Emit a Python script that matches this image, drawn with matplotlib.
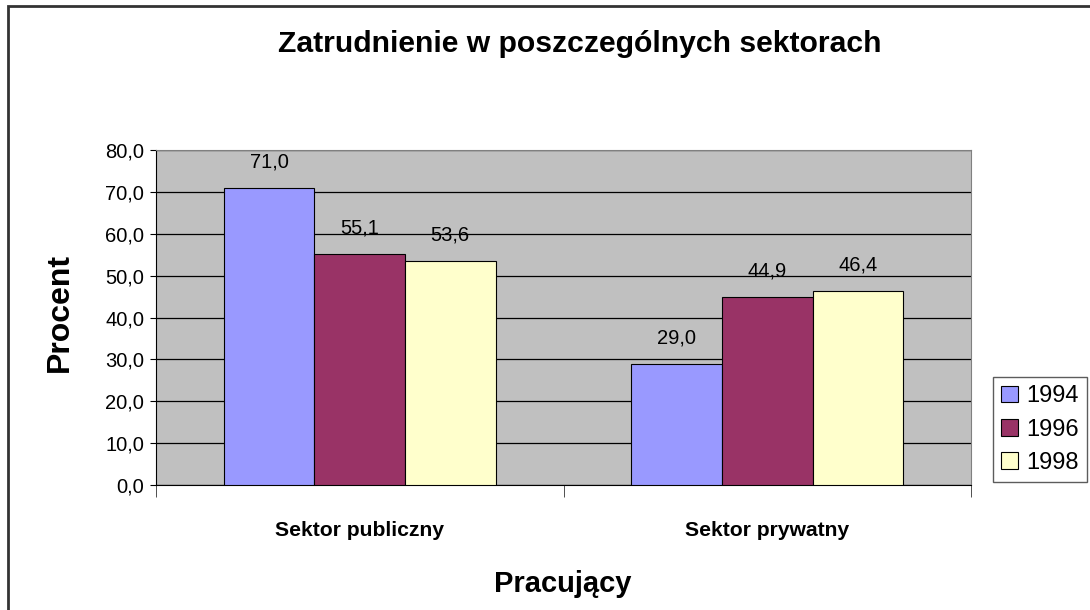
# -*- coding:utf-8 -*-

import numpy as np
import matplotlib
matplotlib.use('Agg')
import matplotlib.pyplot as plt
from matplotlib.patches import Rectangle

plt.rcParams['font.family'] = ['Liberation Sans', 'DejaVu Sans']

categories = ['Sektor publiczny', 'Sektor prywatny']
years = ['1994', '1996', '1998']
val_1994 = [71.0, 29.0]
val_1996 = [55.1, 44.9]
val_1998 = [53.6, 46.4]
colors = ['#9999FF', '#993366', '#FFFFCC']

fig = plt.figure(figsize=(10.9, 6.1), dpi=100)
ax = fig.add_axes([156 / 1090, 1 - 485 / 610, (971 - 156) / 1090, (485 - 150) / 610])
ax.set_facecolor('#C0C0C0')

x = np.arange(len(categories))
w = 1 / 4.5  # gap width 150%
series = [val_1994, val_1996, val_1998]
for i, (vals, c, yr) in enumerate(zip(series, colors, years)):
    pos = x + (i - 1) * w
    ax.bar(pos, vals, width=w, color=c, edgecolor='black', linewidth=0.8, label=yr, zorder=3)
    for px, v in zip(pos, vals):
        ax.annotate(('%.1f' % v).replace('.', ','), (px, v), xytext=(0, 26),
                    textcoords='offset pixels', ha='center', va='center', fontsize=14.5, zorder=4)

ax.set_xlim(-0.5, 1.5)
ax.set_ylim(0, 80)
ax.set_yticks(np.arange(0, 81, 10))
ax.set_yticklabels([('%.1f' % t).replace('.', ',') for t in np.arange(0, 81, 10)], fontsize=14.5)
ax.yaxis.grid(True, color='black', linewidth=0.9, zorder=0)
ax.set_axisbelow(True)

ax.set_xticks(x)
ax.set_xticklabels(categories, fontsize=15.2, fontweight='bold')
ax.tick_params(axis='x', which='major', length=0, pad=26)
ax.set_xticks([-0.5, 0.5, 1.5], minor=True)
ax.tick_params(axis='x', which='minor', length=8.6, color='#333333')
ax.tick_params(axis='y', length=4.3, color='black', pad=4.3)

for s in ['top', 'right']:
    ax.spines[s].set_color('#808080')
ax.spines['left'].set_color('black')
ax.spines['bottom'].set_color('black')

fig.text(580 / 1090, 1 - 44 / 610, 'Zatrudnienie w poszczególnych sektorach',
         ha='center', va='center', fontsize=21.7, fontweight='bold')
fig.text(60 / 1090, 1 - 312 / 610, 'Procent', rotation=90,
         ha='center', va='center', fontsize=23, fontweight='bold')
fig.text(563 / 1090, 1 - 584 / 610, 'Pracujący',
         ha='center', va='center', fontsize=21, fontweight='bold')

leg = ax.legend(loc='upper left', bbox_to_anchor=(993 / 1090, 1 - 377 / 610),
                bbox_transform=fig.transFigure, frameon=True, fancybox=False,
                fontsize=17, handlelength=0.72, handleheight=0.72, handletextpad=0.35,
                borderpad=0.35, labelspacing=0.48, borderaxespad=0)
leg.get_frame().set_edgecolor('#333333')
leg.get_frame().set_linewidth(1.0)

fig.patches.append(Rectangle((8 / 1090, -0.1), 1.2, 1 - 6 / 610 + 0.1, transform=fig.transFigure,
                             fill=False, edgecolor='#333333', linewidth=2, figure=fig))

plt.savefig('out.png', dpi=100)
